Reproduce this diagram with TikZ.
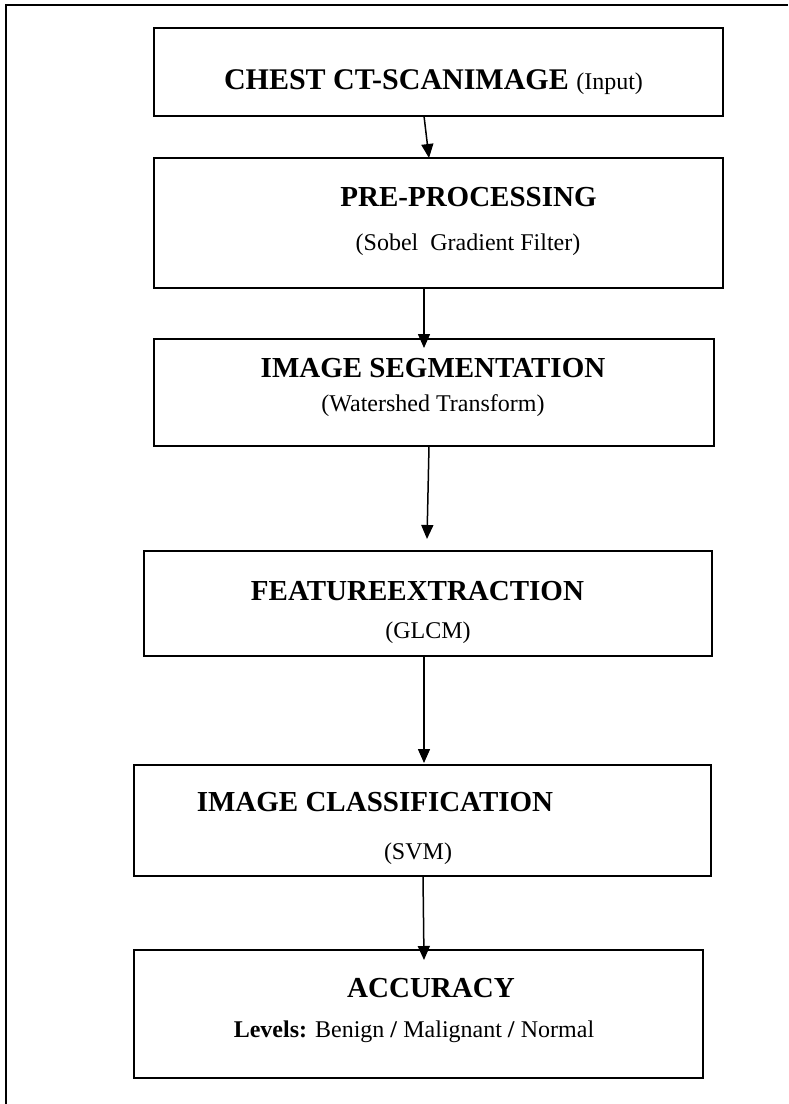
\documentclass[tikz,border=0pt]{standalone}
\usepackage{fontspec}
\setmainfont{Liberation Serif}
\usetikzlibrary{arrows.meta}
\tikzset{
  box/.style={draw=black, line width=1.5pt, inner sep=0pt, outer sep=0pt, rectangle},
  ttl/.style={anchor=base, inner sep=0pt, font=\fontsize{29}{34}\selectfont\bfseries},
  sub/.style={anchor=base, inner sep=0pt, font=\fontsize{24}{28}\selectfont},
  arr/.style={line width=1.5pt, -{Triangle[width=12pt,length=14pt]}}
}
\begin{document}
\begin{tikzpicture}[x=1pt,y=-1pt]
\useasboundingbox (0,0) rectangle (788,1104);
% outer frame
\draw[line width=2pt] (6,1104) -- (6,5) -- (788,5);
% boxes
\node[box, minimum width=569pt, minimum height=88pt]  (b1) at (438.5,72) {};
\node[box, minimum width=569pt, minimum height=130pt] (b2) at (438.5,223) {};
\node[box, minimum width=560pt, minimum height=107pt] (b3) at (434,392.5) {};
\node[box, minimum width=568pt, minimum height=105pt] (b4) at (428,603.5) {};
\node[box, minimum width=577pt, minimum height=111pt] (b5) at (422.5,820.5) {};
\node[box, minimum width=569pt, minimum height=128pt] (b6) at (418.5,1014) {};
% texts
\node[ttl, font=\fontsize{30}{34}\selectfont\bfseries] (t1) at (433.5,89) {CHEST CT-SCANIMAGE {\fontsize{24}{28}\selectfont\mdseries (Input)}};
\node[ttl] (t2a) at (468.5,206) {PRE-PROCESSING};
\node[sub] (t2b) at (468,250) {(Sobel\ \ Gradient Filter)};
\node[ttl] (t3a) at (433,377) {IMAGE SEGMENTATION};
\node[sub] (t3b) at (433,411) {(Watershed Transform)};
\node[ttl] (t4a) at (417.5,600) {FEATUREEXTRACTION};
\node[sub] (t4b) at (428,638) {(GLCM)};
\node[ttl] (t5a) at (375,811) {IMAGE CLASSIFICATION};
\node[sub] (t5b) at (418,859) {(SVM)};
\node[ttl] (t6a) at (431,997) {ACCURACY};
\node[sub] (t6b) at (414,1037) {\textbf{Levels:} Benign \textbf{/} Malignant \textbf{/} Normal};
% connectors
\draw[arr] ([xshift=-14.5pt]b1.south) -- ([xshift=-9.5pt]b2.north);
\draw[arr] ([xshift=-14.5pt]b2.south) -- ([xshift=-10pt,yshift=-9pt]b3.north);
\draw[arr] ([xshift=-5pt]b3.south) -- ([xshift=-1pt,yshift=12pt]b4.north);
\draw[arr] ([xshift=-4pt]b4.south) -- ([xshift=1.5pt,yshift=2pt]b5.north);
\draw[arr] ([xshift=0.5pt]b5.south) -- ([xshift=5.5pt,yshift=-10pt]b6.north);
\end{tikzpicture}
\end{document}
